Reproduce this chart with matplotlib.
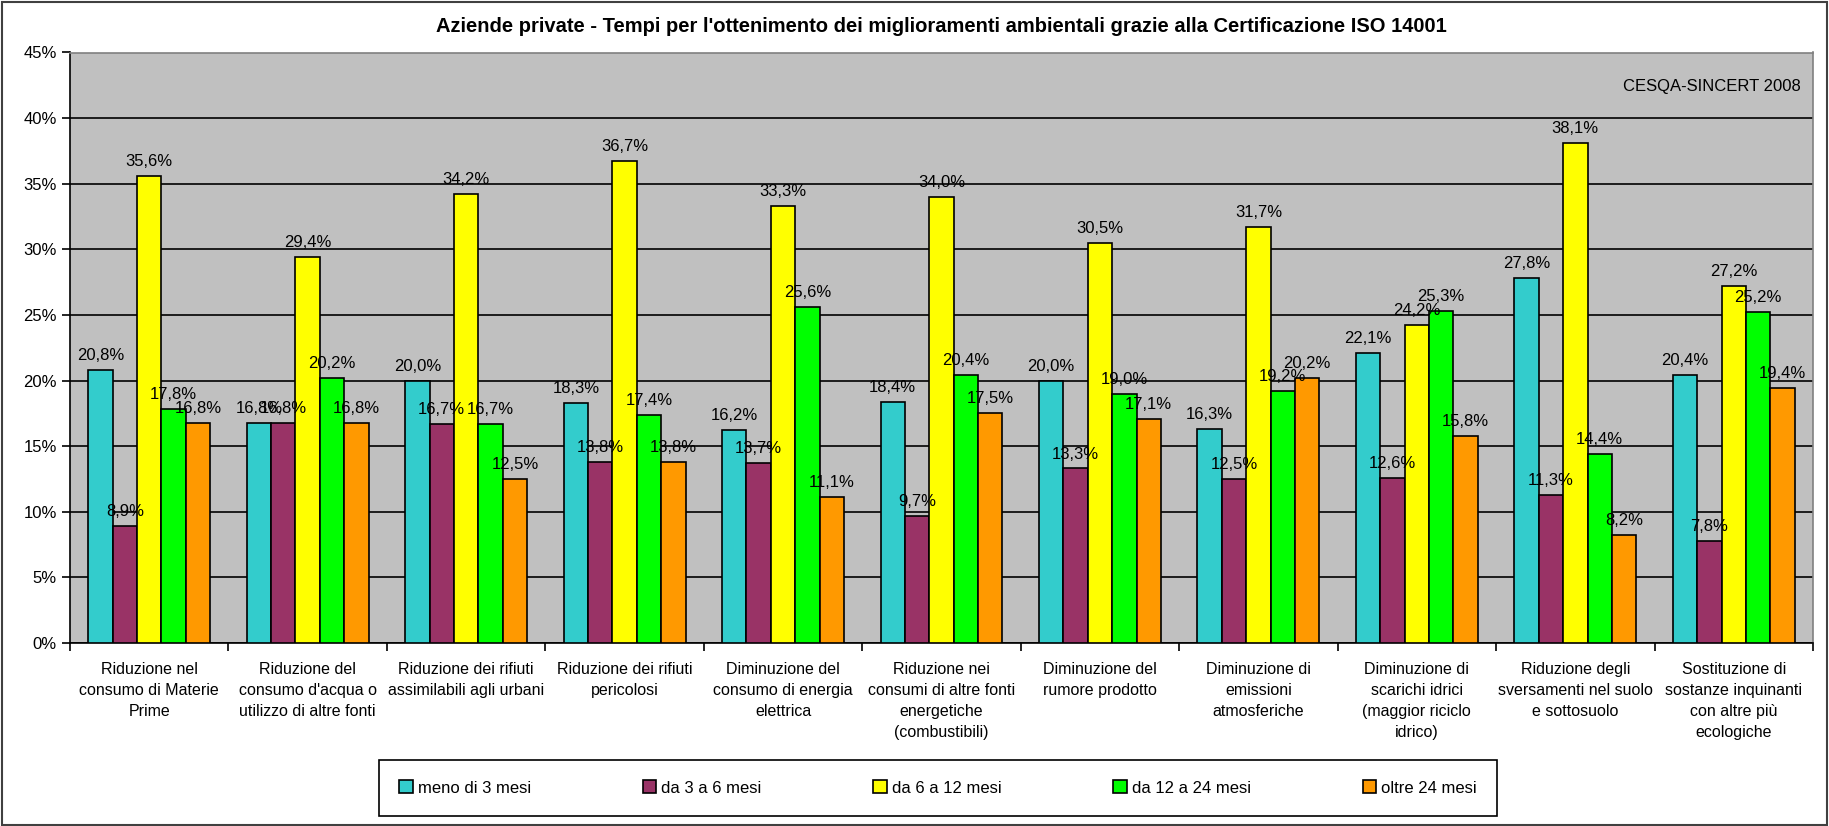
import matplotlib
matplotlib.use('Agg')
import matplotlib.pyplot as plt
import numpy as np
from matplotlib.patches import Rectangle
from matplotlib.ticker import FuncFormatter

plt.rcParams['font.family'] = ['Liberation Sans Narrow', 'Liberation Sans', 'DejaVu Sans']

categories = [
    'Riduzione nel\nconsumo di Materie\nPrime',
    "Riduzione del\nconsumo d'acqua o\nutilizzo di altre fonti",
    'Riduzione dei rifiuti\nassimilabili agli urbani',
    'Riduzione dei rifiuti\npericolosi',
    'Diminuzione del\nconsumo di energia\nelettrica',
    'Riduzione nei\nconsumi di altre fonti\nenergetiche\n(combustibili)',
    'Diminuzione del\nrumore prodotto',
    'Diminuzione di\nemissioni\natmosferiche',
    'Diminuzione di\nscarichi idrici\n(maggior riciclo\nidrico)',
    'Riduzione degli\nsversamenti nel suolo\ne sottosuolo',
    'Sostituzione di\nsostanze inquinanti\ncon altre più\necologiche',
]
series_names = ['meno di 3 mesi', 'da 3 a 6 mesi', 'da 6 a 12 mesi', 'da 12 a 24 mesi', 'oltre 24 mesi']
meno_3 = [20.8, 16.8, 20.0, 18.3, 16.2, 18.4, 20.0, 16.3, 22.1, 27.8, 20.4]
da_3_6 = [8.9, 16.8, 16.7, 13.8, 13.7, 9.7, 13.3, 12.5, 12.6, 11.3, 7.8]
da_6_12 = [35.6, 29.4, 34.2, 36.7, 33.3, 34.0, 30.5, 31.7, 24.2, 38.1, 27.2]
da_12_24 = [17.8, 20.2, 16.7, 17.4, 25.6, 20.4, 19.0, 19.2, 25.3, 14.4, 25.2]
oltre_24 = [16.8, 16.8, 12.5, 13.8, 11.1, 17.5, 17.1, 20.2, 15.8, 8.2, 19.4]
colori = ['#33CCCC', '#993366', '#FFFF00', '#00FF00', '#FF9900']

fig = plt.figure(figsize=(18.29, 8.26), dpi=100)
ax = fig.add_axes([70 / 1829, 1 - 643 / 826, (1813 - 70) / 1829, (643 - 52.5) / 826])
ax.set_facecolor('#C0C0C0')

x = np.arange(len(categories))
w = 1 / 6.5
serie = [meno_3, da_3_6, da_6_12, da_12_24, oltre_24]
for i, (vals, nome, col) in enumerate(zip(serie, series_names, colori)):
    pos = x + (i - 2) * w
    ax.bar(pos, vals, width=w, color=col, edgecolor='black', linewidth=1.2, label=nome, zorder=3)
    for p, v in zip(pos, vals):
        ax.annotate(f'{v:.1f}%'.replace('.', ','), (p, v), xytext=(0, 5), textcoords='offset points',
                    ha='center', va='bottom', fontsize=12, zorder=5)

ax.set_xlim(-0.5, len(categories) - 0.5)
ax.set_ylim(0, 45)
ax.set_yticks(np.arange(0, 46, 5))
ax.yaxis.set_major_formatter(FuncFormatter(lambda v, p: f'{v:.0f}%'))
ax.grid(axis='y', color='black', linewidth=1.2, zorder=1)
ax.set_xticks(x)
ax.set_xticklabels(categories, fontsize=11.5, linespacing=1.5, va='top')
ax.set_xticks(np.arange(-0.5, len(categories)), minor=True)
ax.tick_params(axis='x', which='major', length=0, pad=14)
ax.tick_params(axis='x', which='minor', length=6, width=1.2, direction='out')
ax.tick_params(axis='y', length=6, width=1.2, labelsize=12)
for s in ax.spines.values():
    s.set_color('#808080')
    s.set_linewidth(1.2)
ax.spines['bottom'].set_color('black')
ax.spines['left'].set_color('black')

ax.text(0.993, 0.955, 'CESQA-SINCERT 2008', transform=ax.transAxes, ha='right', va='top', fontsize=12)
fig.text(941 / 1829, 1 - 26 / 826, "Aziende private - Tempi per l'ottenimento dei miglioramenti ambientali grazie alla Certificazione ISO 14001",
         ha='center', va='center', fontsize=14.5, fontweight='bold', family=['Liberation Sans', 'DejaVu Sans'])

leg = fig.legend(loc='center', ncol=5, mode='expand',
                 bbox_to_anchor=(371 / 1829, 3 / 826, (1505 - 371) / 1829, 70 / 826),
                 fontsize=12, handlelength=0.8, handleheight=0.8, handletextpad=0.3,
                 fancybox=False, framealpha=1, edgecolor='black', borderpad=1.2)
leg.get_frame().set_linewidth(1.2)

fig.patches.append(Rectangle((0.001, 0.001), 0.998, 0.996, transform=fig.transFigure,
                             fill=False, edgecolor='#404040', linewidth=1.5))

plt.savefig('out.png', dpi=100)
